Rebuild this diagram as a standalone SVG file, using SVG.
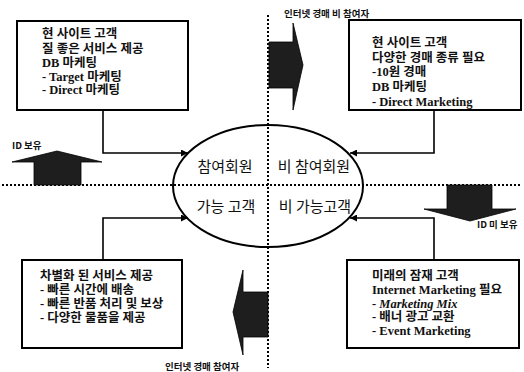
<svg xmlns="http://www.w3.org/2000/svg" width="524" height="372" viewBox="0 0 524 372">
<style>
.box{fill:#fff;stroke:#000;stroke-width:2}
.t{font-family:"Liberation Serif","Noto Sans CJK KR",serif;font-weight:bold;font-size:12.5px;fill:#111}
.s{font-family:"Noto Sans CJK KR",sans-serif;font-weight:bold;font-size:9.5px;fill:#111}
.e{font-family:"Noto Sans CJK KR",sans-serif;font-size:15px;fill:#111}
.dot{stroke:#000;stroke-width:2;stroke-dasharray:2 2;fill:none}
.con{stroke:#000;stroke-width:1.6;fill:none;marker-end:url(#ah)}
.arr{fill:#1e1e1e;stroke:#000;stroke-width:0.8}
</style>
<defs>
<marker id="ah" viewBox="0 0 10 10" refX="10" refY="5" markerWidth="7" markerHeight="7" orient="auto" markerUnits="userSpaceOnUse">
<path d="M0,0 L10,5 L0,10 z" fill="#000"/>
</marker>
</defs>
<rect width="524" height="372" fill="#fff"/>
<g id="dividers">
<line class="dot" x1="2" y1="185" x2="522" y2="185"/>
<line class="dot" x1="268" y1="15" x2="268" y2="368"/>
</g>
<g id="connectors">
<polyline class="con" points="103,110 103,153 188,153"/>
<polyline class="con" points="103,260 103,218 188,218"/>
<polyline class="con" points="434,110 434,153 350,153"/>
<polyline class="con" points="434,260 434,218 350,218"/>
</g>
<g id="center">
<ellipse cx="268" cy="186" rx="95" ry="61" fill="none" stroke="#000" stroke-width="2"/>
<text class="e" x="225" y="172" text-anchor="middle">참여회원</text>
<text class="e" x="314" y="172" text-anchor="middle">비 참여회원</text>
<text class="e" x="226" y="212" text-anchor="middle">가능 고객</text>
<text class="e" x="315" y="212" text-anchor="middle">비 가능고객</text>
</g>
<g id="box-tl">
<rect class="box" x="17" y="21" width="171" height="89"/>
<text class="t" x="42" y="38">현 사이트 고객</text>
<text class="t" x="42" y="53">질 좋은 서비스 제공</text>
<text class="t" x="42" y="67">DB 마케팅</text>
<text class="t" x="42" y="81">- Target 마케팅</text>
<text class="t" x="42" y="94">- Direct 마케팅</text>
</g>
<g id="box-tr">
<rect class="box" x="349" y="20" width="172" height="90"/>
<text class="t" x="372" y="47">현 사이트 고객</text>
<text class="t" x="372" y="62">다양한 경매 종류 필요</text>
<text class="t" x="372" y="76">-10원 경매</text>
<text class="t" x="372" y="91">DB 마케팅</text>
<text class="t" x="372" y="106">- Direct Marketing</text>
</g>
<g id="box-bl">
<rect class="box" x="22" y="260" width="160" height="88"/>
<text class="t" x="40" y="280">차별화 된 서비스 제공</text>
<text class="t" x="40" y="294">- 빠른 시간에 배송</text>
<text class="t" x="40" y="308">- 빠른 반품 처리 및 보상</text>
<text class="t" x="40" y="322">- 다양한 물품을 제공</text>
</g>
<g id="box-br">
<rect class="box" x="347" y="260" width="172" height="88"/>
<text class="t" x="372" y="280">미래의 잠재 고객</text>
<text class="t" x="372" y="294">Internet Marketing 필요</text>
<text class="t" x="372" y="308">- <tspan font-style="italic">Marketing Mix</tspan></text>
<text class="t" x="372" y="321">- 배너 광고 교환</text>
<text class="t" x="372" y="335">- Event Marketing</text>
</g>
<g id="arrow-top">
<polygon class="arr" points="269,42 293,42 293,23 303,65 293,110 293,88 269,88"/>
<text class="s" x="284" y="17">인터넷 경매 비 참여자</text>
</g>
<g id="arrow-bottom">
<polygon class="arr" points="268,292 243,292 243,270 233,312 243,355 243,337 268,337"/>
<text class="s" x="165" y="370">인터넷 경매 참여자</text>
</g>
<g id="arrow-left">
<polygon class="arr" points="34,185 34,162 12,162 57,151 102,162 81,162 81,185"/>
<text class="s" x="12" y="149">ID 보유</text>
</g>
<g id="arrow-right">
<polygon class="arr" points="447,185 492,185 492,209 516,209 470,221 424,209 447,209"/>
<text class="s" x="477" y="228">ID 미 보유</text>
</g>
</svg>
